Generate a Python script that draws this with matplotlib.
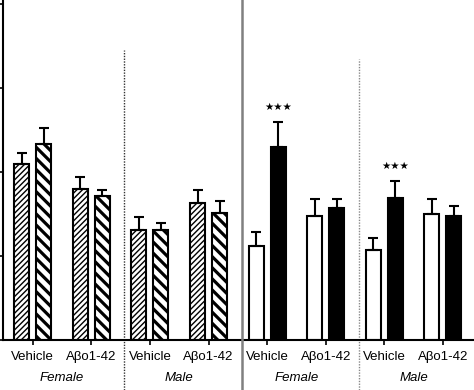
import numpy as np
import matplotlib
matplotlib.use("Agg")
import matplotlib.pyplot as plt
from matplotlib.lines import Line2D

plt.rcParams['font.family'] = ['Liberation Sans', 'DejaVu Sans']

# data (arbitrary units, tick every 50)
groups = ["Vehicle", "A\u03b2o1-42", "Vehicle", "A\u03b2o1-42",
          "Vehicle", "A\u03b2o1-42", "Vehicle", "A\u03b2o1-42"]
sexes = ["Female", "Male", "Female", "Male"]
first_mean = [104.8, 89.9, 65.7, 81.7, 56.0, 73.6, 53.6, 74.8]
first_sem = [6.7, 7.3, 7.5, 7.6, 8.1, 10.1, 7.1, 9.0]
second_mean = [116.7, 85.9, 65.3, 75.8, 114.7, 78.4, 84.5, 74.0]
second_sem = [9.7, 3.2, 4.5, 6.9, 14.9, 5.5, 10.0, 5.8]
stars = ["", "", "", "", "\u2605\u2605\u2605", "", "\u2605\u2605\u2605", ""]

W, H = 474, 390
fig = plt.figure(figsize=(W / 100, H / 100), dpi=100)
ax = fig.add_axes([3 / W, 50 / H, 471 / W, 344.4 / H])

x = np.arange(len(groups))
off = 0.188
bw = 0.256

for i in x:
    left_panel = i < 4
    # first bar of each pair
    b1 = ax.bar(i - off, first_mean[i], bw, color="white", edgecolor="black",
                linewidth=1.5, hatch="//////" if left_panel else None, zorder=2)
    b2 = ax.bar(i + off, second_mean[i], bw,
                color="white" if left_panel else "black", edgecolor="black",
                linewidth=1.5, hatch="\\\\\\" if left_panel else None, zorder=2)
    if left_panel:
        for p in b1:
            if hasattr(p, "set_hatch_linewidth"):
                p.set_hatch_linewidth(1.0)
        for p in b2:
            if hasattr(p, "set_hatch_linewidth"):
                p.set_hatch_linewidth(2.3)
    ax.errorbar(i - off, first_mean[i], yerr=[[0], [first_sem[i]]], fmt="none",
                ecolor="black", elinewidth=1.5, capsize=3.5, capthick=1.5, zorder=3)
    ax.errorbar(i + off, second_mean[i], yerr=[[0], [second_sem[i]]], fmt="none",
                ecolor="black", elinewidth=1.5, capsize=3.5, capthick=1.5, zorder=3)
    if stars[i]:
        ax.text(i + off, second_mean[i] + second_sem[i] + 9, stars[i],
                ha="center", va="center", fontsize=7.5, family="DejaVu Sans")

ax.set_xlim(-0.507, 7.53)
ax.set_ylim(0, 205)
ax.set_yticks([0, 50, 100, 150, 200])
ax.set_yticklabels([])
ax.set_xticks(x)
ax.set_xticklabels([])
ax.tick_params(axis="both", direction="out", length=3.5, width=1.2, color="black")
ax.spines["top"].set_visible(False)
ax.spines["right"].set_visible(False)
ax.spines["left"].set_linewidth(1.5)
ax.spines["bottom"].set_linewidth(1.5)

trans = ax.get_xaxis_transform()
for i, g in enumerate(groups):
    ax.text(i, -0.05, g, transform=trans, ha="center", va="center", fontsize=9.5)
for k, s in enumerate(sexes):
    ax.text(2 * k + 0.5, -0.11, s, transform=trans, ha="center", va="center",
            fontsize=9.5, style="italic")

# dotted separators between sexes
ax.plot([1.563, 1.563], [-29.8, 172.6], ls=(0, (1, 1)), color="#333333",
        lw=1.0, clip_on=False)
ax.plot([5.57, 5.57], [-29.8, 167.1], ls=(0, (1, 1)), color="#888888",
        lw=1.0, clip_on=False)

# gray divider between the two panels
fig.add_artist(Line2D([242 / W, 242 / W], [0, 1], color="#808080", lw=1.8))

fig.savefig("out.png", dpi=100)
